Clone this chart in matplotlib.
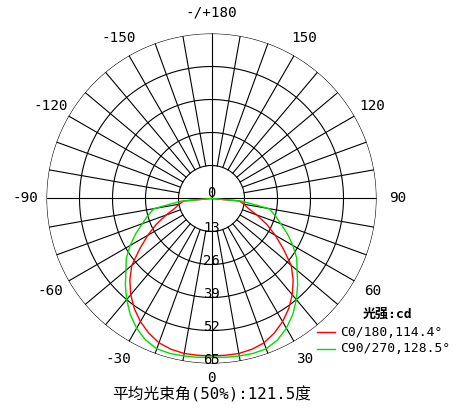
import numpy as np
import matplotlib.pyplot as plt

# =========================
# data
# =========================
ring_values = [13, 26, 39, 52, 65]
radial_labels = ["0", "13", "26", "39", "52", "65"]
angle_ticks = [0, 30, 60, 90, 120, 150, 180, -150, -120, -90, -60, -30]
angle_labels = ["0", "30", "60", "90", "120", "150", "-/+180",
                "-150", "-120", "-90", "-60", "-30"]

# gamma 0..90 in 5 degree steps; the same half curve is drawn on both sides
# (C0 right / C180 left, C90 right / C270 left)
gamma = [0, 5, 10, 15, 20, 25, 30, 35, 40, 45, 50, 55, 60, 65, 70, 75, 80, 85, 90]
c0_180 = [62, 62, 62, 61.5, 60.5, 58.5, 56, 53, 49.5, 45.5, 41, 34.5, 29, 24,
          19, 15, 13, 11, 0]
c90_270 = [62.5, 62.8, 63, 63.2, 63, 61.5, 59, 55.8, 52, 48, 44, 41, 37, 33,
           29, 26, 23, 12, 0]

legend_title = "光强:cd"
legend_items = ["C0/180,114.4°", "C90/270,128.5°"]
colors = ["#ff0000", "#00dd00"]
title = "平均光束角(50%):121.5度"

# =========================
# figure
# =========================
fig = plt.figure(figsize=(4.6, 4.16), dpi=100)
ax = fig.add_axes([0.1011, 0.1262, 0.7174, 0.7933], projection="polar")
ax.set_theta_zero_location("S")
ax.set_theta_direction(1)
ax.set_rlim(0, 65)
ax.grid(False)
ax.set_xticks([])
ax.set_yticks([])
ax.spines["polar"].set_visible(False)
ax.patch.set_alpha(0)

mono = ["DejaVu Sans Mono", "Noto Sans CJK SC"]
grid_kw = dict(color="black", lw=0.8, zorder=1)

# rings
full = np.linspace(0, 2 * np.pi, 400)
for rv in ring_values:
    ax.plot(full, np.full_like(full, rv), **grid_kw)

# spokes every 10 degrees, the main axes go through the center
for a in range(0, 360, 10):
    th = np.deg2rad(a)
    r0 = 0 if a % 90 == 0 else ring_values[0]
    ax.plot([th, th], [r0, ring_values[-1]], **grid_kw)

# curves: mirror the half curve to the left side
g = np.array(gamma, dtype=float)
for vals, c in zip([c0_180, c90_270], colors):
    v = np.array(vals, dtype=float)
    th = np.deg2rad(np.concatenate([-g[::-1], g[1:]]))
    rr = np.concatenate([v[::-1], v[1:]])
    ax.plot(th, rr, color=c, lw=1.0, zorder=3)

# radial labels along the bottom axis (the "0" sits just above the center)
ax.text(np.pi, 2.0, radial_labels[0], ha="center", va="center",
        fontsize=10, family=mono, zorder=4)
for i, lab in enumerate(radial_labels[1:], start=1):
    ax.text(0, i * 13 - 1.5, lab, ha="center", va="center",
            fontsize=10, family=mono, zorder=4)

# angle labels outside the circle
for a, lab in zip(angle_ticks, angle_labels):
    rr = 70.8 if a == 0 else 73.2
    ax.text(np.deg2rad(a), rr, lab, ha="center", va="center",
            fontsize=10.4, family=mono, clip_on=False)

# legend
fig.text(363 / 460, 1 - 314 / 416, legend_title, ha="left", va="center",
         fontsize=9.4, family=mono, weight="bold")
for i, (lab, c) in enumerate(zip(legend_items, colors)):
    yy = 1 - (332 + 17 * i) / 416
    fig.add_artist(plt.Line2D([317 / 460, 335 / 460], [yy, yy], color=c, lw=1.0))
    fig.text(340 / 460, yy, lab, ha="left", va="center", fontsize=9.4, family=mono)

fig.text(212 / 460, 1 - 394 / 416, title, ha="center", va="center",
         fontsize=11.3, family=mono)

fig.savefig("out.png", dpi=100)
